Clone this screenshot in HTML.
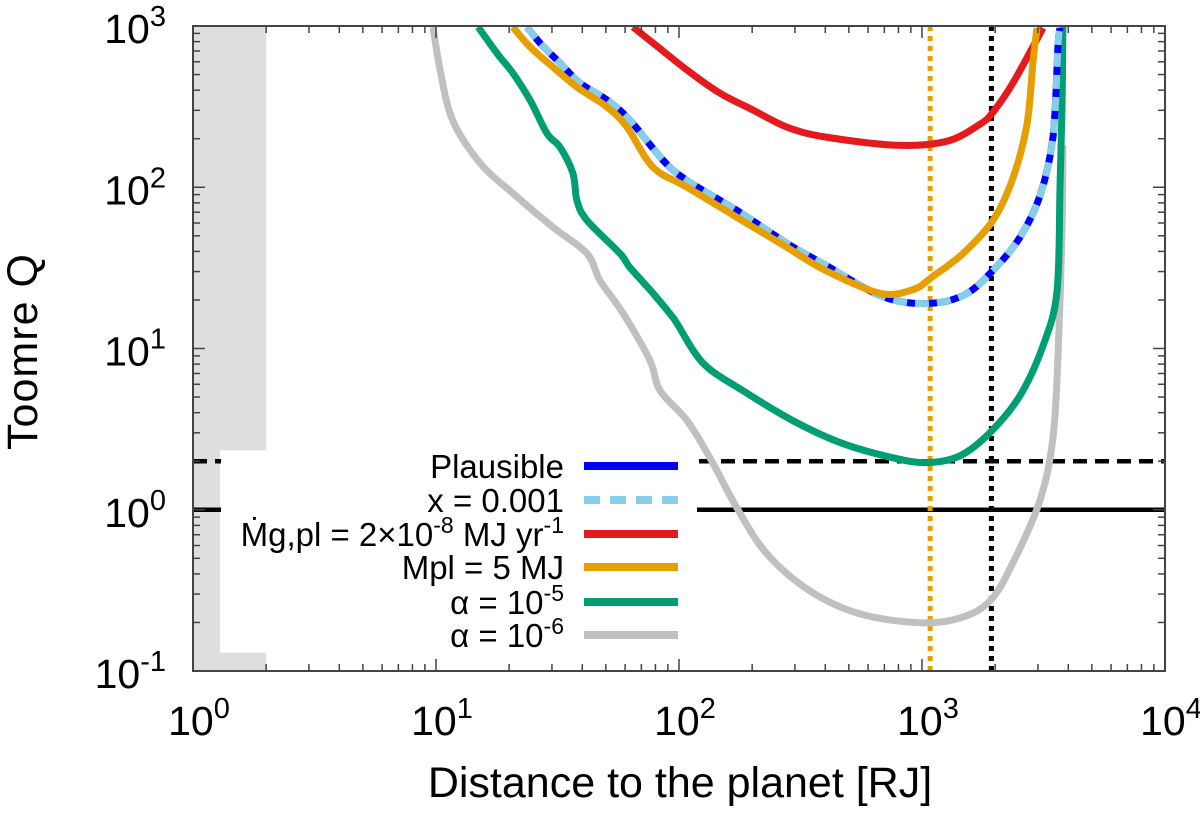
<!DOCTYPE html>
<html>
<head>
<meta charset="utf-8">
<style>
  html, body { margin: 0; padding: 0; background: #fff; }
  svg { display: block; font-family: "Liberation Sans", Arial, sans-serif; }
</style>
</head>
<body>
<svg id="chart" width="1200" height="817" viewBox="0 0 1200 817">
  <defs>
    <clipPath id="plotclip"><rect x="193" y="26" width="972" height="645"/></clipPath>
  </defs>
  <rect x="0" y="0" width="1200" height="817" fill="#fff"/>
  <g id="plot" clip-path="url(#plotclip)"></g>
  <g id="ticks"></g>
  <rect x="193" y="26" width="972" height="645" fill="none" stroke="#444" stroke-width="2"/>
  <g id="labels"></g>
  <text x="680" y="797" font-size="43" text-anchor="middle">Distance to the planet [RJ]</text>
  <text transform="translate(37,352) rotate(-90)" font-size="43" text-anchor="middle" textLength="196">Toomre Q</text>
  <g id="legend"></g>
</svg>
<script>
// ---- data ----
const gX = [9.72,10.4,11.7,15.2,20.7,30.3,41.8,47.3,58.9,76,83.6,108,134,173,230,346,556,982,1432,1905,2367,3061,3459,3630,3770,3800];
const gQ = [986,533,261,141,91.8,56.5,38.9,26.4,16.5,8.4,5.48,3.57,2.10,1.03,0.533,0.314,0.226,0.199,0.213,0.272,0.469,1.15,2.80,9.31,55.6,182];
const eX = [14.9,17.8,20.7,24.4,28.6,32.4,36.6,38.0,41.8,57.1,62.8,78.2,94.4,98.1,126,183,294,473,760,1050,1432,1905,2530,3148,3594,3698,3770,3800];
const eQ = [986,679,511,347,216,177,122,83,62.4,38.9,31.8,22.0,15.6,14.3,8.07,5.48,3.57,2.57,2.10,1.96,2.16,3.01,5.1,10.4,22.6,100,333,986];
const oX = [20.7,24.4,30.3,38.0,50.6,61.1,78.2,108,173,278,400,671,918,1109,1476,1959,2367,2704,2862,2972];
const oQ = [986,741,556,418,314,236,133,100,65.2,42.4,30.5,22.0,23.2,28.0,38.9,62.4,114,246,597,972];
const bX = [23.7,26.8,32.4,39.1,50.6,62.8,86,108,173,278,400,671,1009,1476,1959,2530,3061,3459,3630,3698];
const bQ = [986,784,589,443,347,261,147,110,72,44.9,33,21.3,19.0,21.3,30.5,48.9,89,205,762,972];
const lX = [23.7,26.8,32.4,39.1,50.6,62.8,86,108,173,278,400,671,1009,1476,1959,2530,3061,3459,3630,3698];
const lQ = [986,784,589,443,347,261,147,110,72,44.9,33,21.3,19.0,21.3,30.5,48.9,89,205,762,972];
const rX = [64.7,78.2,108,147,202,278,400,789,1268,1733,1959,2367,3148];
const rQ = [986,784,533,384,301,236,205,182,193,246,292,443,972];
const bandX = [1, 1.29, 2];
const bandQ = [0.1, 0.13, 2.34, 1000];
const vLines = [1080, 1930];
const hLines = [2, 1];
const xTicks = [1, 10, 100, 1000, 10000];
const yTicks = [0.1, 1, 10, 100, 1000];
const xTickExp = ["0","1","2","3","4"];
const yTickExp = ["-1","0","1","2","3"];

// ---- axes ----
const X0 = 193, X1 = 1165, Y0 = 671, Y1 = 26;
function sx(v){ return X0 + Math.log10(v) / 4 * (X1 - X0); }
function sy(v){ return Y0 - (Math.log10(v) + 1) / 4 * (Y0 - Y1); }
const NS = "http://www.w3.org/2000/svg";
function mk(tag, attrs, parent){ const e = document.createElementNS(NS, tag); for (const k in attrs) e.setAttribute(k, attrs[k]); parent.appendChild(e); return e; }
const plot = document.getElementById('plot');

const band = mk('polygon', {points: [
  [sx(bandX[0]), sy(bandQ[3])], [sx(bandX[2]), sy(bandQ[3])], [sx(bandX[2]), sy(bandQ[2])],
  [sx(bandX[1]), sy(bandQ[2])], [sx(bandX[1]), sy(bandQ[1])], [sx(bandX[2]), sy(bandQ[1])],
  [sx(bandX[2]), sy(bandQ[0])], [sx(bandX[0]), sy(bandQ[0])]].map(p=>p.join(',')).join(' '), fill: '#dedede'}, plot);



const hd = mk('line', {x1: X0, x2: X1, y1: sy(hLines[0]), y2: sy(hLines[0]), stroke: '#000', 'stroke-width': 4.5, 'stroke-dasharray': '14 8'}, plot);


const hs = mk('line', {x1: X0, x2: X1, y1: sy(hLines[1]), y2: sy(hLines[1]), stroke: '#000', 'stroke-width': 4.5}, plot);


const v1 = mk('line', {x1: sx(vLines[0]), x2: sx(vLines[0]), y1: Y1, y2: Y0, stroke: '#e69f00', 'stroke-width': 5, 'stroke-dasharray': '5 5'}, plot);


const v2 = mk('line', {x1: sx(vLines[1]), x2: sx(vLines[1]), y1: Y1, y2: Y0, stroke: '#000', 'stroke-width': 5, 'stroke-dasharray': '5 5'}, plot);



function path(xs, ys){
  const p = xs.map((x,i)=>[sx(x), sy(ys[i])]);
  let d = 'M' + p[0][0].toFixed(1) + ',' + p[0][1].toFixed(1);
  for (let i = 0; i < p.length - 1; i++) {
    const p0 = p[Math.max(0,i-1)], p1 = p[i], p2 = p[i+1], p3 = p[Math.min(p.length-1,i+2)];
    const c1 = [p1[0] + (p2[0]-p0[0])/6, p1[1] + (p2[1]-p0[1])/6];
    const c2 = [p2[0] - (p3[0]-p1[0])/6, p2[1] - (p3[1]-p1[1])/6];
    d += ' C' + c1.map(v=>v.toFixed(1)).join(',') + ' ' + c2.map(v=>v.toFixed(1)).join(',') + ' ' + p2.map(v=>v.toFixed(1)).join(',');
  }
  return d;
}
function curve(xs, ys, color, dash, name){
  const p = mk('path', {d: path(xs, ys), fill: 'none', stroke: color, 'stroke-width': 7, 'stroke-linejoin': 'round'}, plot);
  if (dash) p.setAttribute('stroke-dasharray', dash);
  
  
}
curve(gX, gQ, '#c0c0c0', null, 'alpha-1e-6-line');
curve(eX, eQ, '#009e73', null, 'alpha-1e-5-line');
curve(rX, rQ, '#e41a1c', null, 'accretion-rate-line');
curve(bX, bQ, '#0000ff', null, 'plausible-line');
curve(lX, lQ, '#87ceeb', '14 8', 'x-0.001-line');
curve(oX, oQ, '#e69f00', null, 'mpl-5mj-line');

const tg = document.getElementById('ticks');
function tick(x1,y1,x2,y2){ mk('line', {x1,y1,x2,y2, stroke:'#444', 'stroke-width':1.5}, tg); }
for (let d = 0; d < 4; d++) {
  for (let m = 1; m < 10; m++) {
    const v = Math.pow(10, d) * m; const x = sx(v); const L = m === 1 ? 12 : 7;
    if (m > 1 || d > 0) { tick(x, Y0, x, Y0 - L); tick(x, Y1, x, Y1 + L); }
  }
}
for (let d = -1; d < 3; d++) {
  for (let m = 1; m < 10; m++) {
    const v = Math.pow(10, d) * m; const y = sy(v); const L = m === 1 ? 12 : 7;
    if (m > 1 || d > -1) { tick(X0, y, X0 + L, y); tick(X1, y, X1 - L, y); }
  }
}

const lg = document.getElementById('labels');
xTicks.forEach((v,i)=>{
  const t = mk('text', {x: sx(v) + 6, y: 735, 'font-size': 41, 'text-anchor': 'middle'}, lg);
  
  
  t.innerHTML = '10<tspan font-size="29" dy="-17">' + xTickExp[i] + '</tspan>';
});
yTicks.forEach((v,i)=>{
  const t = mk('text', {x: 166, y: sy(v) + 17, 'font-size': 41, 'text-anchor': 'end'}, lg);
  
  
  t.innerHTML = '10<tspan font-size="29" dy="-17">' + yTickExp[i] + '</tspan>';
});

const leg = document.getElementById('legend');
const bgRect = mk('rect', {x: 221, y: 451, width: 476, height: 199, fill: '#fff'}, leg);


const entries = [
  ['Plausible', '#0000ff', null],
  ['x = 0.001', '#87ceeb', '16 10'],
  ['Ṁg,pl = 2×10<tspan font-size="23" dy="-13">-8</tspan><tspan dy="13"> MJ yr</tspan><tspan font-size="23" dy="-13">-1</tspan>', '#e41a1c', null],
  ['Mpl = 5 MJ', '#e69f00', null],
  ['α = 10<tspan font-size="23" dy="-13">-5</tspan>', '#009e73', null],
  ['α = 10<tspan font-size="23" dy="-13">-6</tspan>', '#c0c0c0', null]
];
const rowsY = [466, 500, 534, 567, 602, 635];
entries.forEach((e,i)=>{
  const t = mk('text', {x: 564, y: rowsY[i] + 12, 'font-size': 33, 'text-anchor': 'end'}, leg);
  
  
  t.innerHTML = e[0];
  const l = mk('line', {x1: 584, x2: 678, y1: rowsY[i], y2: rowsY[i], stroke: e[1], 'stroke-width': 8}, leg);
  if (e[2]) l.setAttribute('stroke-dasharray', e[2]);
  
  
});
</script>
</body>
</html>
